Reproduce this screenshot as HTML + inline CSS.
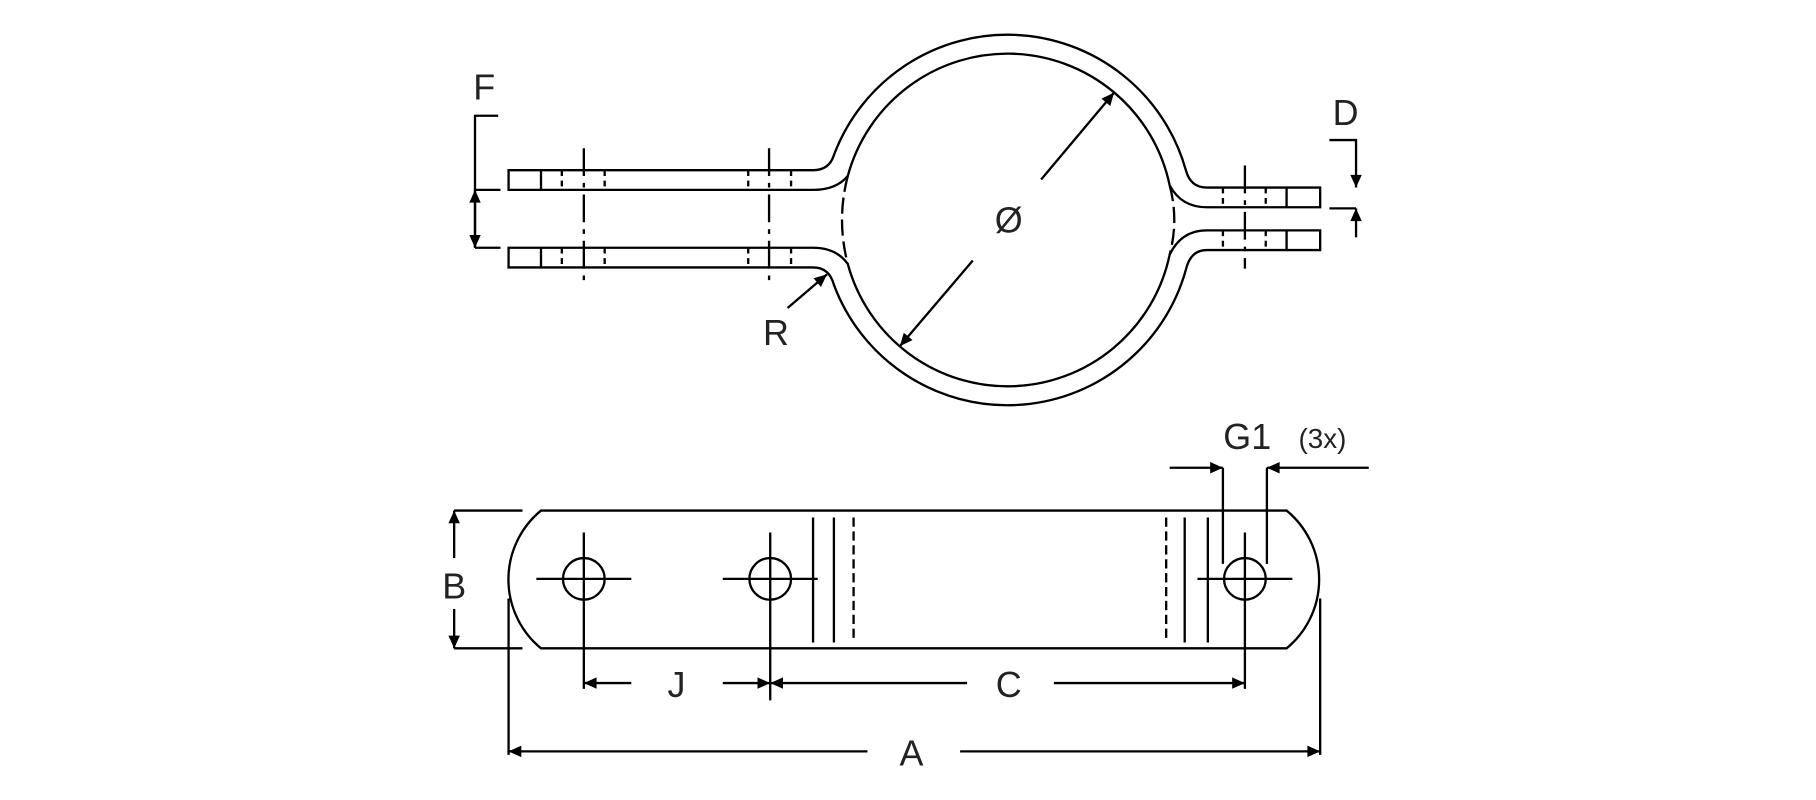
<!DOCTYPE html>
<html><head><style>html,body{margin:0;padding:0;background:#fff}svg{display:block}text{font-family:"Liberation Sans",sans-serif;fill:#222}</style></head><body>
<svg width="1816" height="800" viewBox="0 0 1568 691" xmlns="http://www.w3.org/2000/svg">
<defs>
<marker id="b" viewBox="0 0 10 10" refX="10" refY="5" markerWidth="15" markerHeight="11" markerUnits="userSpaceOnUse" orient="auto"><path d="M0,0.5 L10,5 L0,9.5 Z" fill="#000"/></marker></defs>
<g fill="none" stroke="#000" stroke-width="2">
<path d="M439,147 H702 Q716,147 720,134 A160,160 0 0 1 1024,147 Q1028,162 1042,162 H1140 V179 H1042 Q1020,179 1010,160 A143,143 0 0 0 732,152 Q722,164 702,164 H439 Z"/>
<path d="M439,231 H702 Q716,231 720,246 A160,160 0 0 0 1024,233 Q1028,216 1042,216 H1140 V199 H1042 Q1020,199 1010,220 A143,143 0 0 1 732,228 Q722,214 702,214 H439 Z"/>
<path d="M732,152 Q722,190 732,228" stroke-dasharray="14,5"/>
<path d="M1010,160 Q1018,190 1010,220" stroke-dasharray="14,5"/>
<path d="M467,147V164M467,214V231M1111,162V179M1111,199V216"/>
<g stroke-dasharray="5,4"><path d="M485,147V164M522,147V164M646,147V164M683,147V164M485,214V231M522,214V231M646,214V231M683,214V231M1056,162V179M1093,162V179M1056,199V216M1093,199V216"/></g>
<g stroke-dasharray="24,6,4,6"><path d="M504,128V248M664,128V248M1075,143V232"/></g>
<path d="M430,100H410V214M410,164H432M410,214H432"/>
<path d="M410,190V164" marker-end="url(#b)"/><path d="M410,190V214" marker-end="url(#b)"/>
<path d="M1148,121H1171V162" marker-end="url(#b)"/><path d="M1148,180H1171"/><path d="M1171,205V180" marker-end="url(#b)"/>
<path d="M899,155L962,80" marker-end="url(#b)"/><path d="M840,225L777,299" marker-end="url(#b)"/>
<path d="M680,266L714,237" marker-end="url(#b)"/>
<path d="M467,441H1111A77,77 0 0 1 1111,560H467A77,77 0 0 1 467,441Z"/>
<circle cx="504" cy="500" r="18"/><circle cx="665" cy="500" r="18"/><circle cx="1075" cy="500" r="18"/>
<path d="M463,500H545M504,460V595M624,500H706M665,460V605M1034,500H1116M1075,460V595"/>
<path d="M702,447V555M720,447V555M1023,447V555M1043,447V555"/>
<path d="M737,447V555M1007,447V555" stroke-dasharray="8,4"/>
<path d="M392,441H451M392,560H451"/>
<path d="M392,482V441" marker-end="url(#b)"/><path d="M392,526V560" marker-end="url(#b)"/>
<path d="M545,590H504" marker-end="url(#b)"/><path d="M624,590H665" marker-end="url(#b)"/>
<path d="M835,590H665" marker-end="url(#b)"/><path d="M910,590H1075" marker-end="url(#b)"/>
<path d="M439,517V652M1140,517V652"/>
<path d="M749,649H439" marker-end="url(#b)"/><path d="M829,649H1140" marker-end="url(#b)"/>
<path d="M1056,404V487M1094,404V487"/>
<path d="M1010,404H1056" marker-end="url(#b)"/><path d="M1182,404H1094" marker-end="url(#b)"/>
</g>
<g font-size="31" text-anchor="middle">
<text x="418" y="86">F</text><text x="1162" y="108">D</text><text x="871" y="201">Ø</text><text x="670" y="298">R</text>
<text x="392" y="517">B</text><text x="584" y="602">J</text><text x="871" y="602">C</text><text x="787" y="661">A</text>
<text x="1077" y="388">G1</text><text x="1142" y="387" font-size="24">(3x)</text>
</g>
</svg></body></html>
